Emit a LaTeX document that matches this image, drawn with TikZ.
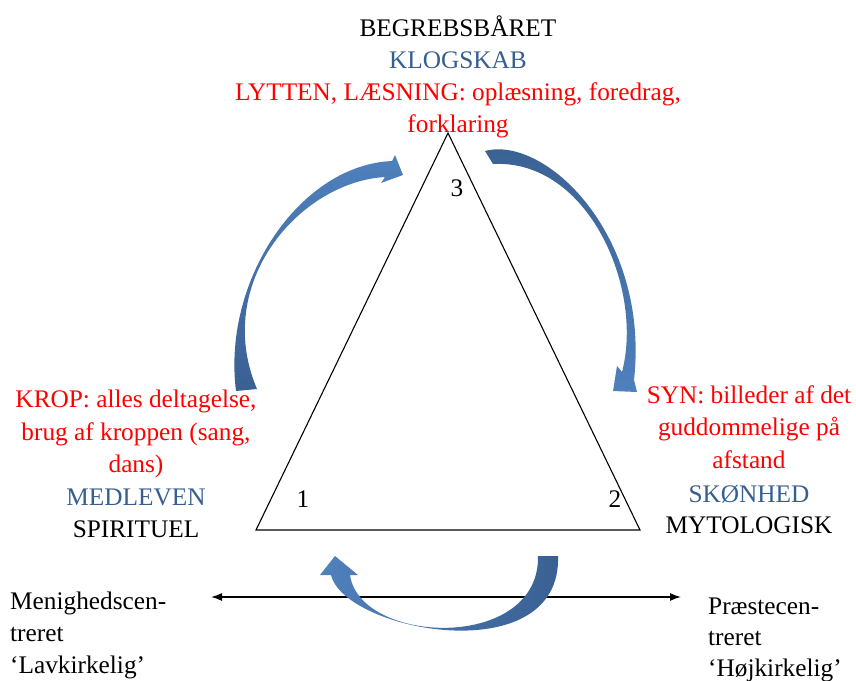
\documentclass[tikz,border=0pt]{standalone}
\usepackage{fontspec}
\setmainfont{Liberation Serif}
\usetikzlibrary{arrows.meta}
\definecolor{accblue}{RGB}{54,95,145}
\definecolor{arrlight}{RGB}{79,129,189}
\definecolor{arrdark}{RGB}{58,96,146}
\begin{document}
\begin{tikzpicture}[x=1pt,y=-1pt,
  txt/.style={anchor=base, inner sep=0pt, font=\fontsize{25.3}{32}\selectfont},
  txtl/.style={txt, anchor=base west},
  redtxt/.style={text=red},
  bluetxt/.style={text=accblue},
  tri/.style={line width=1.1pt, line join=miter},
  dblarrow/.style={line width=1.4pt, {Latex[length=11pt,width=8pt]}-{Latex[length=11pt,width=8pt]}}]
\useasboundingbox (0,0) rectangle (856,680);

% triangle
\coordinate (T3) at (448,133);
\coordinate (T1) at (256,530);
\coordinate (T2) at (640,530);
\draw[tri] (T1) -- (T2) -- (T3) -- cycle;
\node[txt] (n1) at (303,507) {1};
\node[txt] (n2) at (615,507) {2};
\node[txt] (n3) at (457,196) {3};

% top block
\node[txt] (b1) at (458,36) {BEGREBSBÅRET};
\node[txt,bluetxt] (b2) at (458,68) {KLOGSKAB};
\node[txt,redtxt] (b3) at (458,100) {LYTTEN, LÆSNING: oplæsning, foredrag,};
\node[txt,redtxt] (b4) at (458,132) {forklaring};

% left block
\node[txt,redtxt] (l1) at (136,407) {KROP: alles deltagelse,};
\node[txt,redtxt] (l2) at (136,440) {brug af kroppen (sang,};
\node[txt,redtxt] (l3) at (136,472) {dans)};
\node[txt,bluetxt] (l4) at (136,505) {MEDLEVEN};
\node[txt] (l5) at (136,537) {SPIRITUEL};

% right block
\node[txt,redtxt] (r1) at (749,403) {SYN: billeder af det};
\node[txt,redtxt] (r2) at (749,435) {guddommelige på};
\node[txt,redtxt] (r3) at (749,468) {afstand};
\node[txt,bluetxt] (r4) at (749,502) {SKØNHED};
\node[txt] (r5) at (749,533) {MYTOLOGISK};

% bottom texts
\node[txtl] (m1) at (10,609) {Menighedscen-};
\node[txtl] (m2) at (10,641) {treret};
\node[txtl] (m3) at (10,673) {‘Lavkirkelig’};
\node[txtl] (p1) at (708,614) {Præstecen-};
\node[txtl] (p2) at (708,645) {treret};
\node[txtl] (p3) at (708,676) {‘Højkirkelig’};

% double arrow
\coordinate (dl) at (211,597);
\coordinate (dr) at (681,597);
\draw[dblarrow] (dl) -- (dr);

% curved block arrows
% left: KROP -> top
\shade[top color=arrlight, bottom color=arrdark]
  (236,391) .. controls (222,280) and (300,165) .. (392,161)
  -- (395,155) -- (403,175) -- (381,183) -- (385,177)
  .. controls (300,182) and (212,283) .. (257,389)
  -- cycle;

% right: top -> SYN
\shade[top color=arrdark, bottom color=arrlight]
  (485,151) .. controls (545,135) and (650,235) .. (634,380)
  -- (637,392) -- (613,391) -- (617,366) -- (622,372)
  .. controls (644,288) and (588,159) .. (493,164)
  -- cycle;

% bottom: right -> left
\shade[left color=arrlight, right color=arrdark]
  (558,556) .. controls (562,672) and (345,632) .. (331,575)
  -- (320,575) -- (335,556) -- (358,575) -- (350,575)
  .. controls (360,645) and (540,652) .. (538,556)
  -- cycle;
\end{tikzpicture}
\end{document}
